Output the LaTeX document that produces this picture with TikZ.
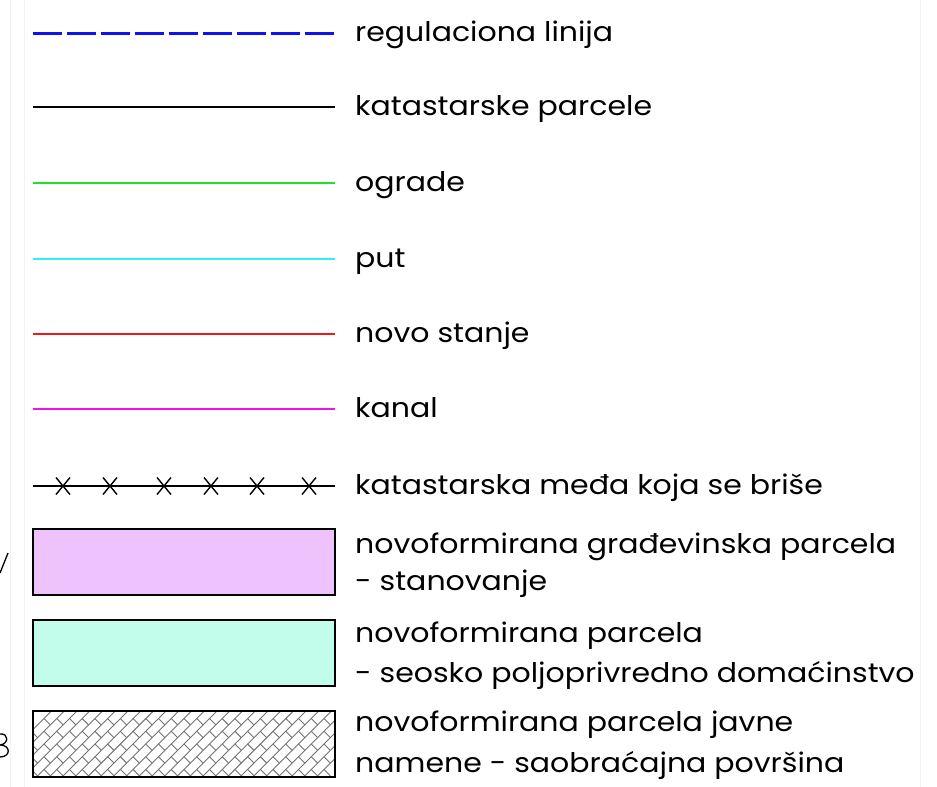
\documentclass[tikz,border=0pt]{standalone}
\usepackage{fontspec}
\setmainfont{Poppins}[FakeStretch=1.11]
\definecolor{regblue}{HTML}{1010F0}
\definecolor{fencegreen}{HTML}{22E022}
\definecolor{roadcyan}{HTML}{30F0F0}
\definecolor{newred}{HTML}{F01818}
\definecolor{canalmag}{HTML}{F010F0}
\definecolor{housefill}{HTML}{EDC2FD}
\definecolor{farmfill}{HTML}{C2FCEA}
\definecolor{hatchgray}{HTML}{737373}
\definecolor{framegray}{HTML}{F2F2F2}
\tikzset{
  legline/.style={line width=2pt},
  lbl/.style={anchor=base west, inner sep=0pt, font=\fontsize{27}{30}\selectfont},
  swatch/.style={draw=black, line width=1.6pt},
  hatch/.style={draw=hatchgray, line width=0.9pt},
  crossmark/.style={line width=1.4pt}
}
\begin{document}
\begin{tikzpicture}[x=1pt,y=-1pt]
\useasboundingbox (0,0) rectangle (937,787);
\fill[white] (0,0) rectangle (937,787);
% faint frame lines
\draw[framegray, line width=0.8pt] (10,0) -- (10,787);
\draw[framegray, line width=0.8pt] (24,0) -- (24,787);
\draw[framegray, line width=0.8pt] (920,0) -- (920,787);
% stray map fragments at the left edge
\draw[line width=1.3pt] (0,573) -- (8,553);
\draw[line width=1.3pt] (0,734) .. controls (9,733) and (9,744) .. (0,745)
  (0,745) .. controls (11,745) and (11,757) .. (0,757);

% line samples
\coordinate (a1) at (33,33);  \coordinate (b1) at (335,33);
\coordinate (a2) at (33,107); \coordinate (b2) at (335,107);
\coordinate (a3) at (33,183); \coordinate (b3) at (335,183);
\coordinate (a4) at (33,259); \coordinate (b4) at (335,259);
\coordinate (a5) at (33,334); \coordinate (b5) at (335,334);
\coordinate (a6) at (33,409); \coordinate (b6) at (335,409);
\coordinate (a7) at (33,486); \coordinate (b7) at (335,486);

\draw[regblue, line width=3pt, dash pattern=on 29pt off 5pt] (a1) -- (b1);
\draw[black, line width=2.2pt] (a2) -- (b2);
\draw[fencegreen, legline] (a3) -- (b3);
\draw[roadcyan, legline] (a4) -- (b4);
\draw[newred, line width=2.2pt] (a5) -- (b5);
\draw[canalmag, legline] (a6) -- (b6);
\draw[black, line width=1.6pt] (a7) -- (b7);
\foreach \cx in {63,110,164,211,257,309}
  \draw[crossmark] (\cx-7,477.5) -- (\cx+7,494.5) (\cx-7,494.5) -- (\cx+7,477.5);

% area samples
\draw[swatch, fill=housefill] (33,529) rectangle (335,595);
\draw[swatch, fill=farmfill] (33,620) rectangle (335,686);
\begin{scope}
\clip (33,711) rectangle (335,777);
\begin{scope}[shift={(184,744)}, rotate=45]
\foreach \k in {-13,...,13} {
  \draw[hatch] (-200,\k*9) -- (200,\k*9);
  \pgfmathtruncatemacro\oddrow{mod(\k+100,2)}
  \foreach \j in {-12,...,12}
    \draw[hatch] ({\j*18+\oddrow*9},\k*9) -- ++(0,9);
}
\end{scope}
\end{scope}
\draw[swatch] (33,711) rectangle (335,777);

% labels
\node[lbl] (t1) at (355,41) {regulaciona linija};
\node[lbl] (t2) at (355,115) {katastarske parcele};
\node[lbl] (t3) at (355,191) {ograde};
\node[lbl] (t4) at (355,267) {put};
\node[lbl] (t5) at (355,342) {novo stanje};
\node[lbl] (t6) at (355,417) {kanal};
\node[lbl] (t7) at (355,494) {katastarska međa koja se briše};
\node[lbl] (t8a) at (355,553) {novoformirana građevinska parcela};
\node[lbl] (t8b) at (355,590) {- stanovanje};
\node[lbl] (t9a) at (355,642) {novoformirana parcela};
\node[lbl] (t9b) at (355,682) {- seosko poljoprivredno domaćinstvo};
\node[lbl] (t10a) at (355,731) {novoformirana parcela javne};
\node[lbl] (t10b) at (355,772) {namene - saobraćajna površina};
\end{tikzpicture}
\end{document}
